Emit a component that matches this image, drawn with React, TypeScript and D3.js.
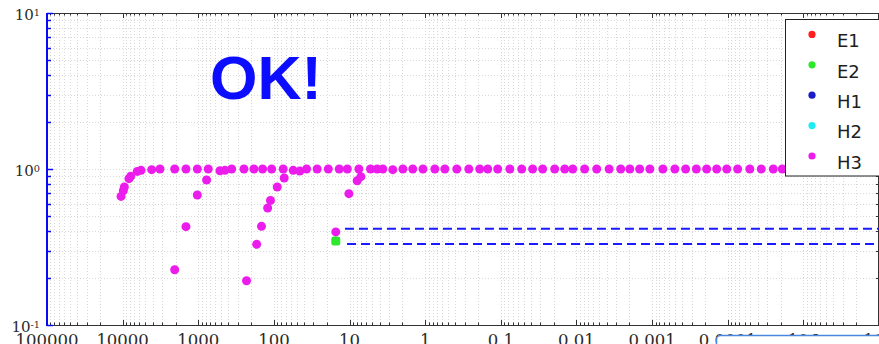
import React, { useRef, useEffect } from "react";
import * as d3 from "d3";

// H3 plateau (x runs from 1e5 down to 1e-6, reversed log axis)
const plateauX = [
  10500, 9800, 9500, 8250, 7830, 6410, 5720, 4130, 3210, 2050, 1455, 1030, 738,
  517, 444, 362, 249, 184, 141, 107, 75.4, 55.6, 45.4, 37.0, 26.8, 19.1, 13.7,
  10.7, 7.53, 5.28, 4.31, 3.63, 2.68, 1.97, 1.46, 1.07, 0.745, 0.55, 0.382,
  0.265, 0.19, 0.149, 0.11, 0.076, 0.053, 0.038, 0.028, 0.0194, 0.0143, 0.0112,
  0.0078, 0.0054, 0.0037, 0.0026, 0.00197, 0.00146, 0.00107, 0.00072, 0.0005,
  0.00036, 0.00026, 0.00019, 0.00014, 0.000103, 7.4e-5, 5.1e-5, 3.6e-5, 2.5e-5,
  1.9e-5, 1.4e-5, 1.0e-5, 7e-6, 5e-6, 3.5e-6, 2.5e-6, 1.8e-6,
];
const plateauY = [
  0.667, 0.726, 0.767, 0.867, 0.897, 0.965, 0.98, 0.99, 1.0, 1.0, 1.0, 1.0, 1.0,
  0.975, 0.98, 1.0, 1.0, 1.0, 1.0, 1.0, 1.0, 0.98, 0.97, 1.0, 1.0, 1.0, 1.0,
  1.0, 1.0, 1.0, 1.0, 1.0, 0.99, 1.0, 1.0, 1.0, 1.0, 1.0, 1.0,
  1.0, 1.0, 1.0, 1.0, 1.0, 1.0, 1.0, 1.0, 1.0, 1.0, 1.0,
  1.0, 1.0, 1.0, 1.0, 1.0, 1.0, 1.0, 1.0, 1.0,
  1.0, 1.0, 1.0, 1.0, 1.0, 1.0, 1.0, 1.0, 1.0,
  1.0, 1.0, 1.0, 1.0, 1.0, 1.0, 1.0, 1.0,
];

// H3 rising branches
const branchAX = [2050, 1455, 1030, 776];
const branchAY = [0.226, 0.427, 0.681, 0.85];
const branchBX = [230, 169, 146, 121, 111, 90.4, 73.1];
const branchBY = [0.192, 0.329, 0.429, 0.562, 0.629, 0.767, 0.876];
const branchCX = [15.2, 10.2, 7.93, 7.08];
const branchCY = [0.395, 0.695, 0.841, 0.893];

// E2 single point
const e2X = [15.2];
const e2Y = [0.345];

// dashed reference levels
const refStartX = [11.5, 10.8];
const refEndX = [1e-6, 1e-6];
const refLevels = [0.414, 0.331];

const xTickValues = [1e5, 1e4, 1e3, 1e2, 10, 1, 0.1, 0.01, 0.001, 0.0001, 1e-5, 1e-6];
const xTickLabels = ["100000", "10000", "1000", "100", "10", "1", "0.1", "0.01", "0.001", "0.0001", "10^-5", "10^-6"];
const yTickValues = [10, 1, 0.1];
const yTickLabels = ["10^1", "10^0", "10^-1"];

const legendLabels = ["E1", "E2", "H1", "H2", "H3"];
const legendColors = ["#ff1f1f", "#2ee82e", "#1c1cc8", "#22eaf0", "#ec1cec"];

export default function App() {
  const svgRef = useRef<SVGSVGElement | null>(null);

  useEffect(() => {
    if (!svgRef.current) return;
    const svg = d3.select(svgRef.current);
    svg.selectAll("*").remove();

    const width = 879;
    const height = 344;
    const left = 47, right = 879, top = 13, bottom = 325;

    const x = d3.scaleLog().domain([1e5, 1e-6]).range([left, right]);
    const y = d3.scaleLog().domain([0.1, 10]).range([bottom, top]);
    const px = (v) => Math.round(x(v)) + 0.5;
    const py = (v) => Math.round(y(v)) + 0.5;

    svg.append("rect").attr("width", width).attr("height", height).attr("fill", "#fff");

    // dotted grid
    const grid = svg.append("g").attr("stroke", "#d9d9d9").attr("stroke-dasharray", "1,2");
    grid
      .selectAll("line.gx")
      .data(x.ticks(30))
      .join("line")
      .attr("x1", px).attr("x2", px)
      .attr("y1", top).attr("y2", bottom);
    grid
      .selectAll("line.gy")
      .data(y.ticks(10))
      .join("line")
      .attr("x1", left).attr("x2", right)
      .attr("y1", py).attr("y2", py);

    const isMajor = (v) => Math.abs(Math.log10(v) - Math.round(Math.log10(v))) < 1e-6;

    // top & bottom & right axes
    const frame = svg.append("g").attr("stroke", "#333").attr("stroke-width", 1);
    frame.append("line").attr("x1", left).attr("x2", right).attr("y1", top + 0.5).attr("y2", top + 0.5);
    frame.append("line").attr("x1", left).attr("x2", right).attr("y1", bottom + 0.5).attr("y2", bottom + 0.5);
    frame.append("line").attr("x1", right - 0.5).attr("x2", right - 0.5).attr("y1", top).attr("y2", bottom);
    x.ticks(30).forEach((v) => {
      const len = isMajor(v) ? 5 : 2.5;
      frame.append("line").attr("x1", px(v)).attr("x2", px(v)).attr("y1", bottom).attr("y2", bottom - len);
      frame.append("line").attr("x1", px(v)).attr("x2", px(v)).attr("y1", top).attr("y2", top + len);
    });
    y.ticks(10).forEach((v) => {
      const len = isMajor(v) ? 5 : 3;
      frame.append("line").attr("x1", right).attr("x2", right - len).attr("y1", py(v)).attr("y2", py(v));
    });

    // left axis (blue)
    const leftAxis = svg.append("g").attr("stroke", "#0a0af0");
    leftAxis.append("line").attr("x1", left).attr("x2", left).attr("y1", top).attr("y2", bottom + 1).attr("stroke-width", 2);
    y.ticks(10).forEach((v) => {
      const len = isMajor(v) ? 6 : 4;
      leftAxis.append("line").attr("x1", left).attr("x2", left + len).attr("y1", py(v)).attr("y2", py(v)).attr("stroke-width", 1.5);
    });

    // tick labels
    const addPowLabel = (g, label, tx, ty, anchor, size) => {
      const t = g.append("text")
        .attr("x", tx).attr("y", ty)
        .attr("text-anchor", anchor)
        .style("font-family", "'DejaVu Serif', serif")
        .style("font-size", size + "px")
        .style("fill", "#2a2a2a");
      const parts = label.split("^");
      t.append("tspan").text(parts[0]);
      if (parts[1]) {
        t.append("tspan").attr("dy", -4).style("font-size", size * 0.65 + "px").text(parts[1]);
      }
    };
    const labels = svg.append("g");
    xTickValues.forEach((v, i) => addPowLabel(labels, xTickLabels[i], x(v), 346, "middle", 16.5));
    yTickValues.forEach((v, i) => addPowLabel(labels, yTickLabels[i], 40, y(v) + 7, "end", 15));

    // dashed reference lines
    const line = d3.line().x((d) => x(d[0])).y((d) => y(d[1]));
    refLevels.forEach((lv, i) => {
      svg.append("path")
        .attr("d", line([[refStartX[i], lv], [refEndX[i], lv]]))
        .attr("fill", "none")
        .attr("stroke", "#1a1aff")
        .attr("stroke-width", 2)
        .attr("stroke-dasharray", "9,5");
    });

    // E2
    svg.append("g")
      .selectAll("rect")
      .data(e2X.map((v, i) => [v, e2Y[i]]))
      .join("rect")
      .attr("x", (d) => x(d[0]) - 4.5)
      .attr("y", (d) => y(d[1]) - 4.5)
      .attr("width", 9).attr("height", 9).attr("rx", 2.5)
      .attr("fill", legendColors[1]);

    // H3
    const h3 = [
      ...plateauX.map((v, i) => [v, plateauY[i]]),
      ...branchAX.map((v, i) => [v, branchAY[i]]),
      ...branchBX.map((v, i) => [v, branchBY[i]]),
      ...branchCX.map((v, i) => [v, branchCY[i]]),
    ];
    svg.append("g")
      .selectAll("circle")
      .data(h3)
      .join("circle")
      .attr("cx", (d) => x(d[0]))
      .attr("cy", (d) => y(d[1]))
      .attr("r", 4.5)
      .attr("fill", legendColors[4]);

    // big OK!
    svg.append("text")
      .attr("x", 210).attr("y", 99)
      .style("font-family", "'Liberation Sans', Arial, sans-serif")
      .style("font-weight", "bold")
      .style("font-size", "61px")
      .style("fill", "#0c0cff")
      .text("OK!");

    // legend
    const lg = svg.append("g");
    lg.append("rect")
      .attr("x", 785.5).attr("y", 19.5)
      .attr("width", 120).attr("height", 156.5)
      .attr("fill", "#fff").attr("stroke", "#222");
    legendLabels.forEach((lab, i) => {
      const cy = 34.4 + i * 30.4;
      lg.append("circle").attr("cx", 812).attr("cy", cy).attr("r", 3.6).attr("fill", legendColors[i]);
      lg.append("text")
        .attr("x", 837).attr("y", cy + 12.8)
        .style("font-family", "'DejaVu Sans', sans-serif")
        .style("font-size", "18px")
        .style("fill", "#1e1e1e")
        .text(lab);
    });

    // overlay box at the bottom right
    svg.append("rect")
      .attr("x", 716.5).attr("y", 335.5)
      .attr("width", 220).attr("height", 40).attr("rx", 4)
      .attr("fill", "#fff").attr("stroke", "#4a88e0").attr("stroke-width", 1.5);
  }, []);

  return (
    <div style={{ position: "absolute", left: 0, top: 0 }}>
      <svg ref={svgRef} width={879} height={344} style={{ display: "block" }} />
    </div>
  );
}
